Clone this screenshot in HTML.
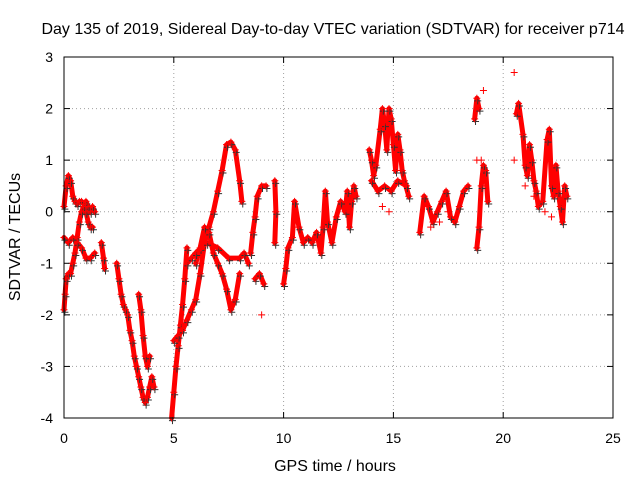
<!DOCTYPE html>
<html><head><meta charset="utf-8"><style>
html,body{margin:0;padding:0;background:#fff;}
svg{display:block;font-family:"Liberation Sans",sans-serif;}
</style></head><body>
<svg id="chart" width="640" height="480" viewBox="0 0 640 480" xmlns="http://www.w3.org/2000/svg">
<rect width="640" height="480" fill="#fff"/>
<text x="333" y="34" font-size="16" text-anchor="middle">Day 135 of 2019, Sidereal Day-to-day VTEC variation (SDTVAR) for receiver p714</text>
<g id="grid"></g>
<g id="ticks"></g>
<g id="marks"></g>
<rect x="64" y="57" width="549" height="361" fill="none" stroke="#000" stroke-width="1"/>
<text x="335" y="471" font-size="16" text-anchor="middle">GPS time / hours</text>
<text transform="translate(20,237) rotate(-90)" font-size="16" text-anchor="middle">SDTVAR / TECUs</text>
</svg>
<script>
const xTicks=[0,5,10,15,20,25];
const yTicks=[-4,-3,-2,-1,0,1,2,3];
const track1=[[0,0.1],[0.1,0.5],[0.2,0.7],[0.3,0.6],[0.4,0.3],[0.5,0.2],[0.6,0.15],[0.7,0.2],[0.8,0.2],[0.9,0.15],[1.0,0.2],[1.1,0.1],[1.2,0.0],[1.3,0.1],[1.4,0.0]];
const track2=[[0,-1.9],[0.05,-1.6],[0.1,-1.3],[0.2,-1.2],[0.3,-1.2],[0.4,-1.0],[0.5,-0.8],[0.6,-0.5],[0.7,-0.2],[0.8,0.0],[0.9,0.1],[1.0,0.0],[1.1,-0.2],[1.2,-0.3],[1.3,-0.3]];
const track3=[[0,-0.5],[0.2,-0.6],[0.4,-0.5],[0.6,-0.6],[0.8,-0.7],[1.0,-0.9],[1.2,-0.9],[1.4,-0.8]];
const track3b=[[1.7,-0.6],[1.8,-0.9],[1.85,-1.1]];
const track4=[[2.4,-1.0],[2.5,-1.3],[2.6,-1.6],[2.7,-1.8],[2.8,-1.9],[2.9,-2.0],[3.0,-2.3],[3.1,-2.5],[3.2,-2.8],[3.3,-3.0],[3.4,-3.2],[3.5,-3.4],[3.6,-3.6],[3.7,-3.7],[3.8,-3.6],[3.9,-3.4],[4.0,-3.2],[4.1,-3.4]];
const track5=[[3.4,-1.6],[3.5,-1.9],[3.6,-2.4],[3.7,-2.8],[3.8,-3.0],[3.9,-2.8]];
const track5b=[[4.9,-4.0],[5.0,-3.5],[5.1,-3.0],[5.2,-2.6],[5.3,-2.2],[5.4,-1.8],[5.5,-1.3],[5.6,-0.7]];
const track6=[[5,-2.5],[5.2,-2.4],[5.4,-2.3],[5.6,-2.1],[5.8,-1.9],[6.0,-1.7],[6.2,-1.2],[6.4,-0.6],[6.6,-0.3],[6.8,0.0],[7.0,0.4],[7.2,0.8],[7.4,1.3],[7.6,1.35],[7.8,1.2],[8.0,0.6],[8.1,0.2]];
const track7=[[6.0,-1.0],[6.2,-0.7],[6.4,-0.3],[6.6,-0.4],[6.8,-0.8],[7.0,-1.0],[7.2,-1.2],[7.4,-1.5],[7.6,-1.9],[7.8,-1.7],[8.0,-1.2]];
const track8=[[5.6,-1.0],[5.8,-0.9],[6.0,-0.8],[6.5,-0.6],[7.0,-0.7],[7.5,-0.9],[8.0,-0.9],[8.2,-0.8],[8.4,-1.0]];
const track9=[[8.5,-0.8],[8.6,-0.4],[8.7,-0.1],[8.8,0.3],[9.0,0.5],[9.2,0.5]];
const track9b=[[8.7,-1.3],[8.9,-1.2],[9.1,-1.4]];
const track9c=[[9.6,0.6],[9.65,0.0],[9.6,-0.6]];
const track10=[[10.0,-1.4],[10.1,-1.1],[10.2,-0.7],[10.4,-0.5],[10.5,0.2],[10.7,-0.3],[10.9,-0.6],[11.1,-0.5],[11.3,-0.6],[11.5,-0.4],[11.7,-0.8],[11.8,-0.3],[11.9,0.4],[12.0,-0.2],[12.2,-0.6],[12.4,-0.1],[12.6,0.2],[12.8,0.0],[12.9,0.4],[13.0,-0.3],[13.1,0.2],[13.2,0.5],[13.3,0.3]];
const track11=[[13.9,1.2],[14.0,1.0],[14.1,0.7],[14.2,0.9],[14.4,1.6],[14.5,2.0],[14.6,1.7],[14.7,1.2],[14.8,2.0],[14.9,1.8],[15.0,1.3],[15.1,0.8],[15.2,1.5],[15.3,1.2],[15.4,0.8],[15.5,0.6],[15.7,0.3]];
const track11b=[[14.0,0.6],[14.3,0.4],[14.6,0.5],[14.9,0.4],[15.2,0.6],[15.6,0.5]];
const track12=[[16.2,-0.4],[16.4,0.3],[16.6,0.1],[16.8,-0.2],[17.0,0.0],[17.2,0.2],[17.4,0.4],[17.6,-0.1],[17.8,-0.2],[18.0,0.1],[18.2,0.4],[18.4,0.5]];
const track13=[[18.8,-0.7],[18.9,-0.3],[19.0,0.5],[19.1,0.9],[19.2,0.8],[19.3,0.2]];
const track13b=[[18.7,1.8],[18.8,2.2],[18.9,2.0]];
const track14=[[20.6,1.9],[20.7,2.1],[20.9,1.5],[21.0,0.9],[21.1,0.7],[21.2,1.3],[21.3,1.0],[21.4,0.6],[21.5,0.4],[21.6,0.1],[21.8,0.2],[22.0,1.4],[22.1,1.6],[22.2,0.5],[22.3,0.3],[22.4,0.9],[22.5,0.4],[22.6,0.1],[22.7,-0.2],[22.8,0.5],[22.9,0.3]];
const scattered=[[9.0,-2.0],[14.5,0.1],[14.8,0.0],[16.7,-0.3],[17.1,-0.2],[17.5,0.0],[19.1,2.35],[18.8,1.0],[19.0,1.0],[20.5,2.7],[20.5,1.0],[21.0,0.5],[21.4,0.3],[21.9,0.0],[22.2,-0.1]];
const tracks=[track1,track2,track3,track3b,track4,track5,track5b,track6,track7,track8,track9,track9b,track9c,track10,track11,track11b,track12,track13,track13b,track14];

const X0=64,X1=613,Y0=418,Y1=57;
const xs=v=>X0+(v-0)/(25-0)*(X1-X0);
const ys=v=>Y0-(v+4)/7*(Y0-Y1);
const NS="http://www.w3.org/2000/svg";
const grid=document.getElementById('grid'),ticks=document.getElementById('ticks'),marks=document.getElementById('marks');
function mk(tag,attrs,parent){const e=document.createElementNS(NS,tag);for(const k in attrs)e.setAttribute(k,attrs[k]);parent.appendChild(e);return e;}
xTicks.forEach(t=>{const x=xs(t);
 if(t>0&&t<25){const g=mk('line',{x1:x,x2:x,y1:Y1,y2:Y0,stroke:'#a0a0a0','stroke-dasharray':'1,3'},grid);
 
 }
 const a=mk('line',{x1:x,x2:x,y1:Y0,y2:Y0-6,stroke:'#000'},ticks);
 
 
 const b=mk('line',{x1:x,x2:x,y1:Y1,y2:Y1+6,stroke:'#000'},ticks);
 
 
 const l=mk('text',{x:x,y:443,'font-size':14,'text-anchor':'middle'},ticks);l.textContent=t;
 
 
});
yTicks.forEach(t=>{const y=ys(t);
 if(t>-4&&t<3){const g=mk('line',{x1:X0,x2:X1,y1:y,y2:y,stroke:'#a0a0a0','stroke-dasharray':'1,3'},grid);
 
 }
 const a=mk('line',{x1:X0,x2:X0+6,y1:y,y2:y,stroke:'#000'},ticks);
 
 
 const b=mk('line',{x1:X1,x2:X1-6,y1:y,y2:y,stroke:'#000'},ticks);
 
 
 const l=mk('text',{x:53,y:y+5,'font-size':14,'text-anchor':'end'},ticks);l.textContent=t;
 
 
});
function plus(v,color){const x=xs(v[0]),y=ys(v[1]);
 const p=mk('path',{d:`M${x-3.5},${y}H${x+3.5}M${x},${y-3.5}V${y+3.5}`,stroke:color,'stroke-width':1},marks);
 
 }
tracks.forEach(tr=>{
 const pl=mk('polyline',{points:tr.map(v=>xs(v[0])+','+ys(v[1])).join(' '),fill:'none',stroke:'#f00','stroke-width':5,'stroke-linejoin':'round','stroke-linecap':'round'},marks);
 
 
 tr.forEach(v=>plus([v[0]+0.04,v[1]-0.05],'#333'));
 tr.forEach(v=>plus(v,'#f00'));
});
scattered.forEach(v=>plus(v,'#f00'));
</script>
</body></html>
